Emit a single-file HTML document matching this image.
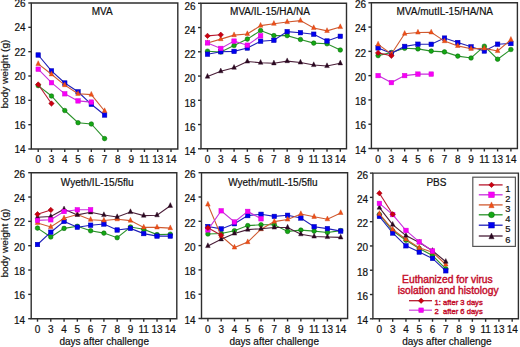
<!DOCTYPE html>
<html><head><meta charset="utf-8"><title>body weight charts</title>
<style>
html,body{margin:0;padding:0;background:#fff;}
body{width:520px;height:347px;overflow:hidden;}
svg{display:block;}
.t{font-family:"Liberation Sans",sans-serif;font-size:10px;fill:#111;stroke:#111;stroke-width:0.2px;}
</style></head>
<body>
<svg width="520" height="347" viewBox="0 0 520 347">
<rect width="520" height="347" fill="#fff"/>
<path d="M31.3 3.0H177.8V149.0H31.3Z" fill="none" stroke="#2e2e2e" stroke-width="1.4"/>
<path d="M28.30 3.00H31.3" stroke="#2e2e2e" stroke-width="1.4"/>
<text x="25.60" y="7.10" text-anchor="end" class="t">26</text>
<path d="M28.30 27.33H31.3" stroke="#2e2e2e" stroke-width="1.4"/>
<text x="25.60" y="31.43" text-anchor="end" class="t">24</text>
<path d="M28.30 51.67H31.3" stroke="#2e2e2e" stroke-width="1.4"/>
<text x="25.60" y="55.77" text-anchor="end" class="t">22</text>
<path d="M28.30 76.00H31.3" stroke="#2e2e2e" stroke-width="1.4"/>
<text x="25.60" y="80.10" text-anchor="end" class="t">20</text>
<path d="M28.30 100.33H31.3" stroke="#2e2e2e" stroke-width="1.4"/>
<text x="25.60" y="104.43" text-anchor="end" class="t">18</text>
<path d="M28.30 124.67H31.3" stroke="#2e2e2e" stroke-width="1.4"/>
<text x="25.60" y="128.77" text-anchor="end" class="t">16</text>
<path d="M28.30 149.00H31.3" stroke="#2e2e2e" stroke-width="1.4"/>
<text x="25.60" y="153.10" text-anchor="end" class="t">14</text>
<path d="M38.20 149.0V152.00" stroke="#2e2e2e" stroke-width="1.4"/>
<text x="38.20" y="163.00" text-anchor="middle" class="t">0</text>
<path d="M51.48 149.0V152.00" stroke="#2e2e2e" stroke-width="1.4"/>
<text x="51.48" y="163.00" text-anchor="middle" class="t">3</text>
<path d="M64.76 149.0V152.00" stroke="#2e2e2e" stroke-width="1.4"/>
<text x="64.76" y="163.00" text-anchor="middle" class="t">4</text>
<path d="M78.04 149.0V152.00" stroke="#2e2e2e" stroke-width="1.4"/>
<text x="78.04" y="163.00" text-anchor="middle" class="t">5</text>
<path d="M91.32 149.0V152.00" stroke="#2e2e2e" stroke-width="1.4"/>
<text x="91.32" y="163.00" text-anchor="middle" class="t">6</text>
<path d="M104.60 149.0V152.00" stroke="#2e2e2e" stroke-width="1.4"/>
<text x="104.60" y="163.00" text-anchor="middle" class="t">7</text>
<path d="M117.88 149.0V152.00" stroke="#2e2e2e" stroke-width="1.4"/>
<text x="117.88" y="163.00" text-anchor="middle" class="t">8</text>
<path d="M131.16 149.0V152.00" stroke="#2e2e2e" stroke-width="1.4"/>
<text x="131.16" y="163.00" text-anchor="middle" class="t">9</text>
<path d="M144.44 149.0V152.00" stroke="#2e2e2e" stroke-width="1.4"/>
<text x="144.44" y="163.00" text-anchor="middle" class="t">11</text>
<path d="M157.72 149.0V152.00" stroke="#2e2e2e" stroke-width="1.4"/>
<text x="157.72" y="163.00" text-anchor="middle" class="t">13</text>
<path d="M171.00 149.0V152.00" stroke="#2e2e2e" stroke-width="1.4"/>
<text x="171.00" y="163.00" text-anchor="middle" class="t">14</text>
<text x="102.20" y="14.70" text-anchor="middle" class="t">MVA</text>
<polyline points="38.20,85.60 51.48,96.00 64.76,110.50 78.04,122.70 91.32,124.00 104.60,138.60" fill="none" stroke="#2a922a" stroke-width="1.1"/>
<circle cx="38.20" cy="85.60" r="2.30" fill="#14a814" stroke="#006000" stroke-width="0.5"/>
<circle cx="51.48" cy="96.00" r="2.30" fill="#14a814" stroke="#006000" stroke-width="0.5"/>
<circle cx="64.76" cy="110.50" r="2.30" fill="#14a814" stroke="#006000" stroke-width="0.5"/>
<circle cx="78.04" cy="122.70" r="2.30" fill="#14a814" stroke="#006000" stroke-width="0.5"/>
<circle cx="91.32" cy="124.00" r="2.30" fill="#14a814" stroke="#006000" stroke-width="0.5"/>
<circle cx="104.60" cy="138.60" r="2.30" fill="#14a814" stroke="#006000" stroke-width="0.5"/>
<polyline points="38.20,55.00 51.48,70.90 64.76,83.00 78.04,91.80 91.32,104.30 104.60,115.00" fill="none" stroke="#2020b8" stroke-width="1.1"/>
<rect x="35.95" y="52.75" width="4.50" height="4.50" fill="#0000f0" stroke="#0000b0" stroke-width="0.5"/>
<rect x="49.23" y="68.65" width="4.50" height="4.50" fill="#0000f0" stroke="#0000b0" stroke-width="0.5"/>
<rect x="62.51" y="80.75" width="4.50" height="4.50" fill="#0000f0" stroke="#0000b0" stroke-width="0.5"/>
<rect x="75.79" y="89.55" width="4.50" height="4.50" fill="#0000f0" stroke="#0000b0" stroke-width="0.5"/>
<rect x="89.07" y="102.05" width="4.50" height="4.50" fill="#0000f0" stroke="#0000b0" stroke-width="0.5"/>
<rect x="102.35" y="112.75" width="4.50" height="4.50" fill="#0000f0" stroke="#0000b0" stroke-width="0.5"/>
<polyline points="38.20,63.90 51.48,74.30 64.76,85.10 78.04,93.80 91.32,94.60 104.60,111.00" fill="none" stroke="#d05a30" stroke-width="1.1"/>
<path d="M38.20 60.70L40.50 65.50L35.90 65.50Z" fill="#f05018" stroke="#c83c10" stroke-width="0.4"/>
<path d="M51.48 71.10L53.78 75.90L49.18 75.90Z" fill="#f05018" stroke="#c83c10" stroke-width="0.4"/>
<path d="M64.76 81.90L67.06 86.70L62.46 86.70Z" fill="#f05018" stroke="#c83c10" stroke-width="0.4"/>
<path d="M78.04 90.60L80.34 95.40L75.74 95.40Z" fill="#f05018" stroke="#c83c10" stroke-width="0.4"/>
<path d="M91.32 91.40L93.62 96.20L89.02 96.20Z" fill="#f05018" stroke="#c83c10" stroke-width="0.4"/>
<path d="M104.60 107.80L106.90 112.60L102.30 112.60Z" fill="#f05018" stroke="#c83c10" stroke-width="0.4"/>
<polyline points="38.20,69.20 51.48,82.70 64.76,93.80 78.04,100.90 91.32,102.10" fill="none" stroke="#c830dc" stroke-width="1.1"/>
<rect x="35.95" y="66.95" width="4.50" height="4.50" fill="#f800f8" stroke="#d800d8" stroke-width="0.5"/>
<rect x="49.23" y="80.45" width="4.50" height="4.50" fill="#f800f8" stroke="#d800d8" stroke-width="0.5"/>
<rect x="62.51" y="91.55" width="4.50" height="4.50" fill="#f800f8" stroke="#d800d8" stroke-width="0.5"/>
<rect x="75.79" y="98.65" width="4.50" height="4.50" fill="#f800f8" stroke="#d800d8" stroke-width="0.5"/>
<rect x="89.07" y="99.85" width="4.50" height="4.50" fill="#f800f8" stroke="#d800d8" stroke-width="0.5"/>
<polyline points="38.20,84.50 51.48,103.50" fill="none" stroke="#b8182e" stroke-width="1.1"/>
<path d="M38.20 81.80L40.90 84.50L38.20 87.20L35.50 84.50Z" fill="#cc0010" stroke="#a00010" stroke-width="0.6"/>
<path d="M51.48 100.80L54.18 103.50L51.48 106.20L48.78 103.50Z" fill="#cc0010" stroke="#a00010" stroke-width="0.6"/>
<path d="M201.0 3.3H346.5V148.8H201.0Z" fill="none" stroke="#2e2e2e" stroke-width="1.4"/>
<path d="M198.00 3.30H201.0" stroke="#2e2e2e" stroke-width="1.4"/>
<text x="195.50" y="9.70" text-anchor="end" class="t">26</text>
<path d="M198.00 27.55H201.0" stroke="#2e2e2e" stroke-width="1.4"/>
<text x="195.50" y="33.95" text-anchor="end" class="t">24</text>
<path d="M198.00 51.80H201.0" stroke="#2e2e2e" stroke-width="1.4"/>
<text x="195.50" y="58.20" text-anchor="end" class="t">22</text>
<path d="M198.00 76.05H201.0" stroke="#2e2e2e" stroke-width="1.4"/>
<text x="195.50" y="82.45" text-anchor="end" class="t">20</text>
<path d="M198.00 100.30H201.0" stroke="#2e2e2e" stroke-width="1.4"/>
<text x="195.50" y="106.70" text-anchor="end" class="t">18</text>
<path d="M198.00 124.55H201.0" stroke="#2e2e2e" stroke-width="1.4"/>
<text x="195.50" y="130.95" text-anchor="end" class="t">16</text>
<path d="M198.00 148.80H201.0" stroke="#2e2e2e" stroke-width="1.4"/>
<text x="195.50" y="155.20" text-anchor="end" class="t">14</text>
<path d="M207.50 148.8V151.80" stroke="#2e2e2e" stroke-width="1.4"/>
<text x="207.50" y="162.80" text-anchor="middle" class="t">0</text>
<path d="M220.78 148.8V151.80" stroke="#2e2e2e" stroke-width="1.4"/>
<text x="220.78" y="162.80" text-anchor="middle" class="t">3</text>
<path d="M234.06 148.8V151.80" stroke="#2e2e2e" stroke-width="1.4"/>
<text x="234.06" y="162.80" text-anchor="middle" class="t">4</text>
<path d="M247.34 148.8V151.80" stroke="#2e2e2e" stroke-width="1.4"/>
<text x="247.34" y="162.80" text-anchor="middle" class="t">5</text>
<path d="M260.62 148.8V151.80" stroke="#2e2e2e" stroke-width="1.4"/>
<text x="260.62" y="162.80" text-anchor="middle" class="t">6</text>
<path d="M273.90 148.8V151.80" stroke="#2e2e2e" stroke-width="1.4"/>
<text x="273.90" y="162.80" text-anchor="middle" class="t">7</text>
<path d="M287.18 148.8V151.80" stroke="#2e2e2e" stroke-width="1.4"/>
<text x="287.18" y="162.80" text-anchor="middle" class="t">8</text>
<path d="M300.46 148.8V151.80" stroke="#2e2e2e" stroke-width="1.4"/>
<text x="300.46" y="162.80" text-anchor="middle" class="t">9</text>
<path d="M313.74 148.8V151.80" stroke="#2e2e2e" stroke-width="1.4"/>
<text x="313.74" y="162.80" text-anchor="middle" class="t">11</text>
<path d="M327.02 148.8V151.80" stroke="#2e2e2e" stroke-width="1.4"/>
<text x="327.02" y="162.80" text-anchor="middle" class="t">13</text>
<path d="M340.30 148.8V151.80" stroke="#2e2e2e" stroke-width="1.4"/>
<text x="340.30" y="162.80" text-anchor="middle" class="t">14</text>
<text x="270.00" y="14.70" text-anchor="middle" class="t">MVA/IL-15/HA/NA</text>
<polyline points="207.50,51.20 220.78,52.00 234.06,45.50 247.34,39.10 260.62,30.50 273.90,35.60 287.18,35.60 300.46,39.50 313.74,43.10 327.02,43.80 340.30,50.00" fill="none" stroke="#2a922a" stroke-width="1.1"/>
<circle cx="207.50" cy="51.20" r="2.30" fill="#14a814" stroke="#006000" stroke-width="0.5"/>
<circle cx="220.78" cy="52.00" r="2.30" fill="#14a814" stroke="#006000" stroke-width="0.5"/>
<circle cx="234.06" cy="45.50" r="2.30" fill="#14a814" stroke="#006000" stroke-width="0.5"/>
<circle cx="247.34" cy="39.10" r="2.30" fill="#14a814" stroke="#006000" stroke-width="0.5"/>
<circle cx="260.62" cy="30.50" r="2.30" fill="#14a814" stroke="#006000" stroke-width="0.5"/>
<circle cx="273.90" cy="35.60" r="2.30" fill="#14a814" stroke="#006000" stroke-width="0.5"/>
<circle cx="287.18" cy="35.60" r="2.30" fill="#14a814" stroke="#006000" stroke-width="0.5"/>
<circle cx="300.46" cy="39.50" r="2.30" fill="#14a814" stroke="#006000" stroke-width="0.5"/>
<circle cx="313.74" cy="43.10" r="2.30" fill="#14a814" stroke="#006000" stroke-width="0.5"/>
<circle cx="327.02" cy="43.80" r="2.30" fill="#14a814" stroke="#006000" stroke-width="0.5"/>
<circle cx="340.30" cy="50.00" r="2.30" fill="#14a814" stroke="#006000" stroke-width="0.5"/>
<polyline points="207.50,54.20 220.78,51.70 234.06,51.40 247.34,48.00 260.62,41.20 273.90,40.30 287.18,31.60 300.46,32.70 313.74,34.20 327.02,41.00 340.30,36.30" fill="none" stroke="#2020b8" stroke-width="1.1"/>
<rect x="205.25" y="51.95" width="4.50" height="4.50" fill="#0000f0" stroke="#0000b0" stroke-width="0.5"/>
<rect x="218.53" y="49.45" width="4.50" height="4.50" fill="#0000f0" stroke="#0000b0" stroke-width="0.5"/>
<rect x="231.81" y="49.15" width="4.50" height="4.50" fill="#0000f0" stroke="#0000b0" stroke-width="0.5"/>
<rect x="245.09" y="45.75" width="4.50" height="4.50" fill="#0000f0" stroke="#0000b0" stroke-width="0.5"/>
<rect x="258.37" y="38.95" width="4.50" height="4.50" fill="#0000f0" stroke="#0000b0" stroke-width="0.5"/>
<rect x="271.65" y="38.05" width="4.50" height="4.50" fill="#0000f0" stroke="#0000b0" stroke-width="0.5"/>
<rect x="284.93" y="29.35" width="4.50" height="4.50" fill="#0000f0" stroke="#0000b0" stroke-width="0.5"/>
<rect x="298.21" y="30.45" width="4.50" height="4.50" fill="#0000f0" stroke="#0000b0" stroke-width="0.5"/>
<rect x="311.49" y="31.95" width="4.50" height="4.50" fill="#0000f0" stroke="#0000b0" stroke-width="0.5"/>
<rect x="324.77" y="38.75" width="4.50" height="4.50" fill="#0000f0" stroke="#0000b0" stroke-width="0.5"/>
<rect x="338.05" y="34.05" width="4.50" height="4.50" fill="#0000f0" stroke="#0000b0" stroke-width="0.5"/>
<polyline points="207.50,43.00 220.78,39.10 234.06,35.10 247.34,34.00 260.62,25.60 273.90,23.70 287.18,22.00 300.46,20.60 313.74,28.00 327.02,30.90 340.30,27.00" fill="none" stroke="#d05a30" stroke-width="1.1"/>
<path d="M207.50 39.80L209.80 44.60L205.20 44.60Z" fill="#f05018" stroke="#c83c10" stroke-width="0.4"/>
<path d="M220.78 35.90L223.08 40.70L218.48 40.70Z" fill="#f05018" stroke="#c83c10" stroke-width="0.4"/>
<path d="M234.06 31.90L236.36 36.70L231.76 36.70Z" fill="#f05018" stroke="#c83c10" stroke-width="0.4"/>
<path d="M247.34 30.80L249.64 35.60L245.04 35.60Z" fill="#f05018" stroke="#c83c10" stroke-width="0.4"/>
<path d="M260.62 22.40L262.92 27.20L258.32 27.20Z" fill="#f05018" stroke="#c83c10" stroke-width="0.4"/>
<path d="M273.90 20.50L276.20 25.30L271.60 25.30Z" fill="#f05018" stroke="#c83c10" stroke-width="0.4"/>
<path d="M287.18 18.80L289.48 23.60L284.88 23.60Z" fill="#f05018" stroke="#c83c10" stroke-width="0.4"/>
<path d="M300.46 17.40L302.76 22.20L298.16 22.20Z" fill="#f05018" stroke="#c83c10" stroke-width="0.4"/>
<path d="M313.74 24.80L316.04 29.60L311.44 29.60Z" fill="#f05018" stroke="#c83c10" stroke-width="0.4"/>
<path d="M327.02 27.70L329.32 32.50L324.72 32.50Z" fill="#f05018" stroke="#c83c10" stroke-width="0.4"/>
<path d="M340.30 23.80L342.60 28.60L338.00 28.60Z" fill="#f05018" stroke="#c83c10" stroke-width="0.4"/>
<polyline points="207.50,76.60 220.78,71.20 234.06,67.70 247.34,61.50 260.62,62.70 273.90,63.30 287.18,61.10 300.46,62.50 313.74,65.00 327.02,66.00 340.30,63.30" fill="none" stroke="#4a1e38" stroke-width="1.1"/>
<path d="M207.50 73.40L209.80 78.20L205.20 78.20Z" fill="#2a0820" stroke="#2a0820" stroke-width="0.4"/>
<path d="M220.78 68.00L223.08 72.80L218.48 72.80Z" fill="#2a0820" stroke="#2a0820" stroke-width="0.4"/>
<path d="M234.06 64.50L236.36 69.30L231.76 69.30Z" fill="#2a0820" stroke="#2a0820" stroke-width="0.4"/>
<path d="M247.34 58.30L249.64 63.10L245.04 63.10Z" fill="#2a0820" stroke="#2a0820" stroke-width="0.4"/>
<path d="M260.62 59.50L262.92 64.30L258.32 64.30Z" fill="#2a0820" stroke="#2a0820" stroke-width="0.4"/>
<path d="M273.90 60.10L276.20 64.90L271.60 64.90Z" fill="#2a0820" stroke="#2a0820" stroke-width="0.4"/>
<path d="M287.18 57.90L289.48 62.70L284.88 62.70Z" fill="#2a0820" stroke="#2a0820" stroke-width="0.4"/>
<path d="M300.46 59.30L302.76 64.10L298.16 64.10Z" fill="#2a0820" stroke="#2a0820" stroke-width="0.4"/>
<path d="M313.74 61.80L316.04 66.60L311.44 66.60Z" fill="#2a0820" stroke="#2a0820" stroke-width="0.4"/>
<path d="M327.02 62.80L329.32 67.60L324.72 67.60Z" fill="#2a0820" stroke="#2a0820" stroke-width="0.4"/>
<path d="M340.30 60.10L342.60 64.90L338.00 64.90Z" fill="#2a0820" stroke="#2a0820" stroke-width="0.4"/>
<polyline points="207.50,42.90 220.78,48.40 234.06,41.10 247.34,45.20 260.62,35.80" fill="none" stroke="#c830dc" stroke-width="1.1"/>
<rect x="205.25" y="40.65" width="4.50" height="4.50" fill="#f800f8" stroke="#d800d8" stroke-width="0.5"/>
<rect x="218.53" y="46.15" width="4.50" height="4.50" fill="#f800f8" stroke="#d800d8" stroke-width="0.5"/>
<rect x="231.81" y="38.85" width="4.50" height="4.50" fill="#f800f8" stroke="#d800d8" stroke-width="0.5"/>
<rect x="245.09" y="42.95" width="4.50" height="4.50" fill="#f800f8" stroke="#d800d8" stroke-width="0.5"/>
<rect x="258.37" y="33.55" width="4.50" height="4.50" fill="#f800f8" stroke="#d800d8" stroke-width="0.5"/>
<polyline points="207.50,35.90 220.78,34.80" fill="none" stroke="#b8182e" stroke-width="1.1"/>
<path d="M207.50 33.20L210.20 35.90L207.50 38.60L204.80 35.90Z" fill="#cc0010" stroke="#a00010" stroke-width="0.6"/>
<path d="M220.78 32.10L223.48 34.80L220.78 37.50L218.08 34.80Z" fill="#cc0010" stroke="#a00010" stroke-width="0.6"/>
<path d="M371.4 2.8H517.4V148.5H371.4Z" fill="none" stroke="#2e2e2e" stroke-width="1.4"/>
<path d="M368.40 2.80H371.4" stroke="#2e2e2e" stroke-width="1.4"/>
<text x="366.00" y="8.00" text-anchor="end" class="t">26</text>
<path d="M368.40 27.08H371.4" stroke="#2e2e2e" stroke-width="1.4"/>
<text x="366.00" y="32.28" text-anchor="end" class="t">24</text>
<path d="M368.40 51.37H371.4" stroke="#2e2e2e" stroke-width="1.4"/>
<text x="366.00" y="56.57" text-anchor="end" class="t">22</text>
<path d="M368.40 75.65H371.4" stroke="#2e2e2e" stroke-width="1.4"/>
<text x="366.00" y="80.85" text-anchor="end" class="t">20</text>
<path d="M368.40 99.93H371.4" stroke="#2e2e2e" stroke-width="1.4"/>
<text x="366.00" y="105.13" text-anchor="end" class="t">18</text>
<path d="M368.40 124.22H371.4" stroke="#2e2e2e" stroke-width="1.4"/>
<text x="366.00" y="129.42" text-anchor="end" class="t">16</text>
<path d="M368.40 148.50H371.4" stroke="#2e2e2e" stroke-width="1.4"/>
<text x="366.00" y="153.70" text-anchor="end" class="t">14</text>
<path d="M378.10 148.5V151.50" stroke="#2e2e2e" stroke-width="1.4"/>
<text x="378.10" y="162.50" text-anchor="middle" class="t">0</text>
<path d="M391.38 148.5V151.50" stroke="#2e2e2e" stroke-width="1.4"/>
<text x="391.38" y="162.50" text-anchor="middle" class="t">3</text>
<path d="M404.66 148.5V151.50" stroke="#2e2e2e" stroke-width="1.4"/>
<text x="404.66" y="162.50" text-anchor="middle" class="t">4</text>
<path d="M417.94 148.5V151.50" stroke="#2e2e2e" stroke-width="1.4"/>
<text x="417.94" y="162.50" text-anchor="middle" class="t">5</text>
<path d="M431.22 148.5V151.50" stroke="#2e2e2e" stroke-width="1.4"/>
<text x="431.22" y="162.50" text-anchor="middle" class="t">6</text>
<path d="M444.50 148.5V151.50" stroke="#2e2e2e" stroke-width="1.4"/>
<text x="444.50" y="162.50" text-anchor="middle" class="t">7</text>
<path d="M457.78 148.5V151.50" stroke="#2e2e2e" stroke-width="1.4"/>
<text x="457.78" y="162.50" text-anchor="middle" class="t">8</text>
<path d="M471.06 148.5V151.50" stroke="#2e2e2e" stroke-width="1.4"/>
<text x="471.06" y="162.50" text-anchor="middle" class="t">9</text>
<path d="M484.34 148.5V151.50" stroke="#2e2e2e" stroke-width="1.4"/>
<text x="484.34" y="162.50" text-anchor="middle" class="t">11</text>
<path d="M497.62 148.5V151.50" stroke="#2e2e2e" stroke-width="1.4"/>
<text x="497.62" y="162.50" text-anchor="middle" class="t">13</text>
<path d="M510.90 148.5V151.50" stroke="#2e2e2e" stroke-width="1.4"/>
<text x="510.90" y="162.50" text-anchor="middle" class="t">14</text>
<text x="444.80" y="14.70" text-anchor="middle" class="t">MVA/mutIL-15/HA/NA</text>
<polyline points="378.10,55.60 391.38,52.50 404.66,48.30 417.94,48.90 431.22,51.10 444.50,51.90 457.78,56.10 471.06,58.00 484.34,46.20 497.62,59.20 510.90,49.50" fill="none" stroke="#2a922a" stroke-width="1.1"/>
<circle cx="378.10" cy="55.60" r="2.30" fill="#14a814" stroke="#006000" stroke-width="0.5"/>
<circle cx="391.38" cy="52.50" r="2.30" fill="#14a814" stroke="#006000" stroke-width="0.5"/>
<circle cx="404.66" cy="48.30" r="2.30" fill="#14a814" stroke="#006000" stroke-width="0.5"/>
<circle cx="417.94" cy="48.90" r="2.30" fill="#14a814" stroke="#006000" stroke-width="0.5"/>
<circle cx="431.22" cy="51.10" r="2.30" fill="#14a814" stroke="#006000" stroke-width="0.5"/>
<circle cx="444.50" cy="51.90" r="2.30" fill="#14a814" stroke="#006000" stroke-width="0.5"/>
<circle cx="457.78" cy="56.10" r="2.30" fill="#14a814" stroke="#006000" stroke-width="0.5"/>
<circle cx="471.06" cy="58.00" r="2.30" fill="#14a814" stroke="#006000" stroke-width="0.5"/>
<circle cx="484.34" cy="46.20" r="2.30" fill="#14a814" stroke="#006000" stroke-width="0.5"/>
<circle cx="497.62" cy="59.20" r="2.30" fill="#14a814" stroke="#006000" stroke-width="0.5"/>
<circle cx="510.90" cy="49.50" r="2.30" fill="#14a814" stroke="#006000" stroke-width="0.5"/>
<polyline points="378.10,47.90 391.38,53.30 404.66,46.40 417.94,44.20 431.22,44.30 444.50,38.10 457.78,42.50 471.06,46.80 484.34,51.00 497.62,44.20 510.90,43.50" fill="none" stroke="#2020b8" stroke-width="1.1"/>
<rect x="375.85" y="45.65" width="4.50" height="4.50" fill="#0000f0" stroke="#0000b0" stroke-width="0.5"/>
<rect x="389.13" y="51.05" width="4.50" height="4.50" fill="#0000f0" stroke="#0000b0" stroke-width="0.5"/>
<rect x="402.41" y="44.15" width="4.50" height="4.50" fill="#0000f0" stroke="#0000b0" stroke-width="0.5"/>
<rect x="415.69" y="41.95" width="4.50" height="4.50" fill="#0000f0" stroke="#0000b0" stroke-width="0.5"/>
<rect x="428.97" y="42.05" width="4.50" height="4.50" fill="#0000f0" stroke="#0000b0" stroke-width="0.5"/>
<rect x="442.25" y="35.85" width="4.50" height="4.50" fill="#0000f0" stroke="#0000b0" stroke-width="0.5"/>
<rect x="455.53" y="40.25" width="4.50" height="4.50" fill="#0000f0" stroke="#0000b0" stroke-width="0.5"/>
<rect x="468.81" y="44.55" width="4.50" height="4.50" fill="#0000f0" stroke="#0000b0" stroke-width="0.5"/>
<rect x="482.09" y="48.75" width="4.50" height="4.50" fill="#0000f0" stroke="#0000b0" stroke-width="0.5"/>
<rect x="495.37" y="41.95" width="4.50" height="4.50" fill="#0000f0" stroke="#0000b0" stroke-width="0.5"/>
<rect x="508.65" y="41.25" width="4.50" height="4.50" fill="#0000f0" stroke="#0000b0" stroke-width="0.5"/>
<polyline points="378.10,44.40 391.38,54.00 404.66,33.70 417.94,32.50 431.22,32.40 444.50,41.10 457.78,45.90 471.06,48.80 484.34,48.40 497.62,51.00 510.90,39.70" fill="none" stroke="#d05a30" stroke-width="1.1"/>
<path d="M378.10 41.20L380.40 46.00L375.80 46.00Z" fill="#f05018" stroke="#c83c10" stroke-width="0.4"/>
<path d="M391.38 50.80L393.68 55.60L389.08 55.60Z" fill="#f05018" stroke="#c83c10" stroke-width="0.4"/>
<path d="M404.66 30.50L406.96 35.30L402.36 35.30Z" fill="#f05018" stroke="#c83c10" stroke-width="0.4"/>
<path d="M417.94 29.30L420.24 34.10L415.64 34.10Z" fill="#f05018" stroke="#c83c10" stroke-width="0.4"/>
<path d="M431.22 29.20L433.52 34.00L428.92 34.00Z" fill="#f05018" stroke="#c83c10" stroke-width="0.4"/>
<path d="M444.50 37.90L446.80 42.70L442.20 42.70Z" fill="#f05018" stroke="#c83c10" stroke-width="0.4"/>
<path d="M457.78 42.70L460.08 47.50L455.48 47.50Z" fill="#f05018" stroke="#c83c10" stroke-width="0.4"/>
<path d="M471.06 45.60L473.36 50.40L468.76 50.40Z" fill="#f05018" stroke="#c83c10" stroke-width="0.4"/>
<path d="M484.34 45.20L486.64 50.00L482.04 50.00Z" fill="#f05018" stroke="#c83c10" stroke-width="0.4"/>
<path d="M497.62 47.80L499.92 52.60L495.32 52.60Z" fill="#f05018" stroke="#c83c10" stroke-width="0.4"/>
<path d="M510.90 36.50L513.20 41.30L508.60 41.30Z" fill="#f05018" stroke="#c83c10" stroke-width="0.4"/>
<polyline points="378.10,75.60 391.38,82.60 404.66,75.60 417.94,74.10 431.22,74.10" fill="none" stroke="#c830dc" stroke-width="1.1"/>
<rect x="375.85" y="73.35" width="4.50" height="4.50" fill="#f800f8" stroke="#d800d8" stroke-width="0.5"/>
<rect x="389.13" y="80.35" width="4.50" height="4.50" fill="#f800f8" stroke="#d800d8" stroke-width="0.5"/>
<rect x="402.41" y="73.35" width="4.50" height="4.50" fill="#f800f8" stroke="#d800d8" stroke-width="0.5"/>
<rect x="415.69" y="71.85" width="4.50" height="4.50" fill="#f800f8" stroke="#d800d8" stroke-width="0.5"/>
<rect x="428.97" y="71.85" width="4.50" height="4.50" fill="#f800f8" stroke="#d800d8" stroke-width="0.5"/>
<polyline points="378.10,52.90 391.38,55.80" fill="none" stroke="#b8182e" stroke-width="1.1"/>
<path d="M378.10 50.20L380.80 52.90L378.10 55.60L375.40 52.90Z" fill="#cc0010" stroke="#a00010" stroke-width="0.6"/>
<path d="M391.38 53.10L394.08 55.80L391.38 58.50L388.68 55.80Z" fill="#cc0010" stroke="#a00010" stroke-width="0.6"/>
<path d="M31.2 172.7H176.8V318.7H31.2Z" fill="none" stroke="#2e2e2e" stroke-width="1.4"/>
<path d="M28.20 172.70H31.2" stroke="#2e2e2e" stroke-width="1.4"/>
<text x="25.10" y="177.60" text-anchor="end" class="t">26</text>
<path d="M28.20 197.03H31.2" stroke="#2e2e2e" stroke-width="1.4"/>
<text x="25.10" y="201.93" text-anchor="end" class="t">24</text>
<path d="M28.20 221.37H31.2" stroke="#2e2e2e" stroke-width="1.4"/>
<text x="25.10" y="226.27" text-anchor="end" class="t">22</text>
<path d="M28.20 245.70H31.2" stroke="#2e2e2e" stroke-width="1.4"/>
<text x="25.10" y="250.60" text-anchor="end" class="t">20</text>
<path d="M28.20 270.03H31.2" stroke="#2e2e2e" stroke-width="1.4"/>
<text x="25.10" y="274.93" text-anchor="end" class="t">18</text>
<path d="M28.20 294.37H31.2" stroke="#2e2e2e" stroke-width="1.4"/>
<text x="25.10" y="299.27" text-anchor="end" class="t">16</text>
<path d="M28.20 318.70H31.2" stroke="#2e2e2e" stroke-width="1.4"/>
<text x="25.10" y="323.60" text-anchor="end" class="t">14</text>
<path d="M37.50 318.7V321.70" stroke="#2e2e2e" stroke-width="1.4"/>
<text x="37.50" y="332.70" text-anchor="middle" class="t">0</text>
<path d="M50.78 318.7V321.70" stroke="#2e2e2e" stroke-width="1.4"/>
<text x="50.78" y="332.70" text-anchor="middle" class="t">3</text>
<path d="M64.06 318.7V321.70" stroke="#2e2e2e" stroke-width="1.4"/>
<text x="64.06" y="332.70" text-anchor="middle" class="t">4</text>
<path d="M77.34 318.7V321.70" stroke="#2e2e2e" stroke-width="1.4"/>
<text x="77.34" y="332.70" text-anchor="middle" class="t">5</text>
<path d="M90.62 318.7V321.70" stroke="#2e2e2e" stroke-width="1.4"/>
<text x="90.62" y="332.70" text-anchor="middle" class="t">6</text>
<path d="M103.90 318.7V321.70" stroke="#2e2e2e" stroke-width="1.4"/>
<text x="103.90" y="332.70" text-anchor="middle" class="t">7</text>
<path d="M117.18 318.7V321.70" stroke="#2e2e2e" stroke-width="1.4"/>
<text x="117.18" y="332.70" text-anchor="middle" class="t">8</text>
<path d="M130.46 318.7V321.70" stroke="#2e2e2e" stroke-width="1.4"/>
<text x="130.46" y="332.70" text-anchor="middle" class="t">9</text>
<path d="M143.74 318.7V321.70" stroke="#2e2e2e" stroke-width="1.4"/>
<text x="143.74" y="332.70" text-anchor="middle" class="t">11</text>
<path d="M157.02 318.7V321.70" stroke="#2e2e2e" stroke-width="1.4"/>
<text x="157.02" y="332.70" text-anchor="middle" class="t">13</text>
<path d="M170.30 318.7V321.70" stroke="#2e2e2e" stroke-width="1.4"/>
<text x="170.30" y="332.70" text-anchor="middle" class="t">14</text>
<text x="97.20" y="185.70" text-anchor="middle" class="t">Wyeth/IL-15/5flu</text>
<polyline points="37.50,228.10 50.78,237.00 64.06,228.40 77.34,226.30 90.62,230.80 103.90,233.10 117.18,237.70 130.46,227.00 143.74,229.30 157.02,234.60 170.30,234.20" fill="none" stroke="#2a922a" stroke-width="1.1"/>
<circle cx="37.50" cy="228.10" r="2.30" fill="#14a814" stroke="#006000" stroke-width="0.5"/>
<circle cx="50.78" cy="237.00" r="2.30" fill="#14a814" stroke="#006000" stroke-width="0.5"/>
<circle cx="64.06" cy="228.40" r="2.30" fill="#14a814" stroke="#006000" stroke-width="0.5"/>
<circle cx="77.34" cy="226.30" r="2.30" fill="#14a814" stroke="#006000" stroke-width="0.5"/>
<circle cx="90.62" cy="230.80" r="2.30" fill="#14a814" stroke="#006000" stroke-width="0.5"/>
<circle cx="103.90" cy="233.10" r="2.30" fill="#14a814" stroke="#006000" stroke-width="0.5"/>
<circle cx="117.18" cy="237.70" r="2.30" fill="#14a814" stroke="#006000" stroke-width="0.5"/>
<circle cx="130.46" cy="227.00" r="2.30" fill="#14a814" stroke="#006000" stroke-width="0.5"/>
<circle cx="143.74" cy="229.30" r="2.30" fill="#14a814" stroke="#006000" stroke-width="0.5"/>
<circle cx="157.02" cy="234.60" r="2.30" fill="#14a814" stroke="#006000" stroke-width="0.5"/>
<circle cx="170.30" cy="234.20" r="2.30" fill="#14a814" stroke="#006000" stroke-width="0.5"/>
<polyline points="37.50,244.50 50.78,232.20 64.06,221.40 77.34,227.20 90.62,225.20 103.90,224.00 117.18,230.00 130.46,228.40 143.74,233.60 157.02,236.10 170.30,236.10" fill="none" stroke="#2020b8" stroke-width="1.1"/>
<rect x="35.25" y="242.25" width="4.50" height="4.50" fill="#0000f0" stroke="#0000b0" stroke-width="0.5"/>
<rect x="48.53" y="229.95" width="4.50" height="4.50" fill="#0000f0" stroke="#0000b0" stroke-width="0.5"/>
<rect x="61.81" y="219.15" width="4.50" height="4.50" fill="#0000f0" stroke="#0000b0" stroke-width="0.5"/>
<rect x="75.09" y="224.95" width="4.50" height="4.50" fill="#0000f0" stroke="#0000b0" stroke-width="0.5"/>
<rect x="88.37" y="222.95" width="4.50" height="4.50" fill="#0000f0" stroke="#0000b0" stroke-width="0.5"/>
<rect x="101.65" y="221.75" width="4.50" height="4.50" fill="#0000f0" stroke="#0000b0" stroke-width="0.5"/>
<rect x="114.93" y="227.75" width="4.50" height="4.50" fill="#0000f0" stroke="#0000b0" stroke-width="0.5"/>
<rect x="128.21" y="226.15" width="4.50" height="4.50" fill="#0000f0" stroke="#0000b0" stroke-width="0.5"/>
<rect x="141.49" y="231.35" width="4.50" height="4.50" fill="#0000f0" stroke="#0000b0" stroke-width="0.5"/>
<rect x="154.77" y="233.85" width="4.50" height="4.50" fill="#0000f0" stroke="#0000b0" stroke-width="0.5"/>
<rect x="168.05" y="233.85" width="4.50" height="4.50" fill="#0000f0" stroke="#0000b0" stroke-width="0.5"/>
<polyline points="37.50,223.00 50.78,227.00 64.06,218.30 77.34,214.50 90.62,219.70 103.90,220.50 117.18,219.20 130.46,220.60 143.74,227.40 157.02,227.40 170.30,228.10" fill="none" stroke="#d05a30" stroke-width="1.1"/>
<path d="M37.50 219.80L39.80 224.60L35.20 224.60Z" fill="#f05018" stroke="#c83c10" stroke-width="0.4"/>
<path d="M50.78 223.80L53.08 228.60L48.48 228.60Z" fill="#f05018" stroke="#c83c10" stroke-width="0.4"/>
<path d="M64.06 215.10L66.36 219.90L61.76 219.90Z" fill="#f05018" stroke="#c83c10" stroke-width="0.4"/>
<path d="M77.34 211.30L79.64 216.10L75.04 216.10Z" fill="#f05018" stroke="#c83c10" stroke-width="0.4"/>
<path d="M90.62 216.50L92.92 221.30L88.32 221.30Z" fill="#f05018" stroke="#c83c10" stroke-width="0.4"/>
<path d="M103.90 217.30L106.20 222.10L101.60 222.10Z" fill="#f05018" stroke="#c83c10" stroke-width="0.4"/>
<path d="M117.18 216.00L119.48 220.80L114.88 220.80Z" fill="#f05018" stroke="#c83c10" stroke-width="0.4"/>
<path d="M130.46 217.40L132.76 222.20L128.16 222.20Z" fill="#f05018" stroke="#c83c10" stroke-width="0.4"/>
<path d="M143.74 224.20L146.04 229.00L141.44 229.00Z" fill="#f05018" stroke="#c83c10" stroke-width="0.4"/>
<path d="M157.02 224.20L159.32 229.00L154.72 229.00Z" fill="#f05018" stroke="#c83c10" stroke-width="0.4"/>
<path d="M170.30 224.90L172.60 229.70L168.00 229.70Z" fill="#f05018" stroke="#c83c10" stroke-width="0.4"/>
<polyline points="37.50,217.20 50.78,216.50 64.06,209.20 77.34,214.90 90.62,212.30 103.90,215.00 117.18,217.00 130.46,212.00 143.74,215.60 157.02,215.20 170.30,205.80" fill="none" stroke="#4a1e38" stroke-width="1.1"/>
<path d="M37.50 214.00L39.80 218.80L35.20 218.80Z" fill="#2a0820" stroke="#2a0820" stroke-width="0.4"/>
<path d="M50.78 213.30L53.08 218.10L48.48 218.10Z" fill="#2a0820" stroke="#2a0820" stroke-width="0.4"/>
<path d="M64.06 206.00L66.36 210.80L61.76 210.80Z" fill="#2a0820" stroke="#2a0820" stroke-width="0.4"/>
<path d="M77.34 211.70L79.64 216.50L75.04 216.50Z" fill="#2a0820" stroke="#2a0820" stroke-width="0.4"/>
<path d="M90.62 209.10L92.92 213.90L88.32 213.90Z" fill="#2a0820" stroke="#2a0820" stroke-width="0.4"/>
<path d="M103.90 211.80L106.20 216.60L101.60 216.60Z" fill="#2a0820" stroke="#2a0820" stroke-width="0.4"/>
<path d="M117.18 213.80L119.48 218.60L114.88 218.60Z" fill="#2a0820" stroke="#2a0820" stroke-width="0.4"/>
<path d="M130.46 208.80L132.76 213.60L128.16 213.60Z" fill="#2a0820" stroke="#2a0820" stroke-width="0.4"/>
<path d="M143.74 212.40L146.04 217.20L141.44 217.20Z" fill="#2a0820" stroke="#2a0820" stroke-width="0.4"/>
<path d="M157.02 212.00L159.32 216.80L154.72 216.80Z" fill="#2a0820" stroke="#2a0820" stroke-width="0.4"/>
<path d="M170.30 202.60L172.60 207.40L168.00 207.40Z" fill="#2a0820" stroke="#2a0820" stroke-width="0.4"/>
<polyline points="37.50,220.40 50.78,219.80 64.06,211.50 77.34,209.80 90.62,209.70" fill="none" stroke="#c830dc" stroke-width="1.1"/>
<rect x="35.25" y="218.15" width="4.50" height="4.50" fill="#f800f8" stroke="#d800d8" stroke-width="0.5"/>
<rect x="48.53" y="217.55" width="4.50" height="4.50" fill="#f800f8" stroke="#d800d8" stroke-width="0.5"/>
<rect x="61.81" y="209.25" width="4.50" height="4.50" fill="#f800f8" stroke="#d800d8" stroke-width="0.5"/>
<rect x="75.09" y="207.55" width="4.50" height="4.50" fill="#f800f8" stroke="#d800d8" stroke-width="0.5"/>
<rect x="88.37" y="207.45" width="4.50" height="4.50" fill="#f800f8" stroke="#d800d8" stroke-width="0.5"/>
<polyline points="37.50,214.20 50.78,210.00" fill="none" stroke="#b8182e" stroke-width="1.1"/>
<path d="M37.50 211.50L40.20 214.20L37.50 216.90L34.80 214.20Z" fill="#cc0010" stroke="#a00010" stroke-width="0.6"/>
<path d="M50.78 207.30L53.48 210.00L50.78 212.70L48.08 210.00Z" fill="#cc0010" stroke="#a00010" stroke-width="0.6"/>
<path d="M201.5 172.7H347.6V318.5H201.5Z" fill="none" stroke="#2e2e2e" stroke-width="1.4"/>
<path d="M198.50 172.70H201.5" stroke="#2e2e2e" stroke-width="1.4"/>
<text x="195.50" y="177.90" text-anchor="end" class="t">26</text>
<path d="M198.50 197.00H201.5" stroke="#2e2e2e" stroke-width="1.4"/>
<text x="195.50" y="202.20" text-anchor="end" class="t">24</text>
<path d="M198.50 221.30H201.5" stroke="#2e2e2e" stroke-width="1.4"/>
<text x="195.50" y="226.50" text-anchor="end" class="t">22</text>
<path d="M198.50 245.60H201.5" stroke="#2e2e2e" stroke-width="1.4"/>
<text x="195.50" y="250.80" text-anchor="end" class="t">20</text>
<path d="M198.50 269.90H201.5" stroke="#2e2e2e" stroke-width="1.4"/>
<text x="195.50" y="275.10" text-anchor="end" class="t">18</text>
<path d="M198.50 294.20H201.5" stroke="#2e2e2e" stroke-width="1.4"/>
<text x="195.50" y="299.40" text-anchor="end" class="t">16</text>
<path d="M198.50 318.50H201.5" stroke="#2e2e2e" stroke-width="1.4"/>
<text x="195.50" y="323.70" text-anchor="end" class="t">14</text>
<path d="M207.90 318.5V321.50" stroke="#2e2e2e" stroke-width="1.4"/>
<text x="207.90" y="332.50" text-anchor="middle" class="t">0</text>
<path d="M221.18 318.5V321.50" stroke="#2e2e2e" stroke-width="1.4"/>
<text x="221.18" y="332.50" text-anchor="middle" class="t">3</text>
<path d="M234.46 318.5V321.50" stroke="#2e2e2e" stroke-width="1.4"/>
<text x="234.46" y="332.50" text-anchor="middle" class="t">4</text>
<path d="M247.74 318.5V321.50" stroke="#2e2e2e" stroke-width="1.4"/>
<text x="247.74" y="332.50" text-anchor="middle" class="t">5</text>
<path d="M261.02 318.5V321.50" stroke="#2e2e2e" stroke-width="1.4"/>
<text x="261.02" y="332.50" text-anchor="middle" class="t">6</text>
<path d="M274.30 318.5V321.50" stroke="#2e2e2e" stroke-width="1.4"/>
<text x="274.30" y="332.50" text-anchor="middle" class="t">7</text>
<path d="M287.58 318.5V321.50" stroke="#2e2e2e" stroke-width="1.4"/>
<text x="287.58" y="332.50" text-anchor="middle" class="t">8</text>
<path d="M300.86 318.5V321.50" stroke="#2e2e2e" stroke-width="1.4"/>
<text x="300.86" y="332.50" text-anchor="middle" class="t">9</text>
<path d="M314.14 318.5V321.50" stroke="#2e2e2e" stroke-width="1.4"/>
<text x="314.14" y="332.50" text-anchor="middle" class="t">11</text>
<path d="M327.42 318.5V321.50" stroke="#2e2e2e" stroke-width="1.4"/>
<text x="327.42" y="332.50" text-anchor="middle" class="t">13</text>
<path d="M340.70 318.5V321.50" stroke="#2e2e2e" stroke-width="1.4"/>
<text x="340.70" y="332.50" text-anchor="middle" class="t">14</text>
<text x="272.90" y="185.70" text-anchor="middle" class="t">Wyeth/mutIL-15/5flu</text>
<polyline points="207.90,234.00 221.18,233.50 234.46,230.70 247.74,225.60 261.02,224.80 274.30,224.80 287.58,231.40 300.86,230.10 314.14,231.10 327.42,232.50 340.70,230.60" fill="none" stroke="#2a922a" stroke-width="1.1"/>
<circle cx="207.90" cy="234.00" r="2.30" fill="#14a814" stroke="#006000" stroke-width="0.5"/>
<circle cx="221.18" cy="233.50" r="2.30" fill="#14a814" stroke="#006000" stroke-width="0.5"/>
<circle cx="234.46" cy="230.70" r="2.30" fill="#14a814" stroke="#006000" stroke-width="0.5"/>
<circle cx="247.74" cy="225.60" r="2.30" fill="#14a814" stroke="#006000" stroke-width="0.5"/>
<circle cx="261.02" cy="224.80" r="2.30" fill="#14a814" stroke="#006000" stroke-width="0.5"/>
<circle cx="274.30" cy="224.80" r="2.30" fill="#14a814" stroke="#006000" stroke-width="0.5"/>
<circle cx="287.58" cy="231.40" r="2.30" fill="#14a814" stroke="#006000" stroke-width="0.5"/>
<circle cx="300.86" cy="230.10" r="2.30" fill="#14a814" stroke="#006000" stroke-width="0.5"/>
<circle cx="314.14" cy="231.10" r="2.30" fill="#14a814" stroke="#006000" stroke-width="0.5"/>
<circle cx="327.42" cy="232.50" r="2.30" fill="#14a814" stroke="#006000" stroke-width="0.5"/>
<circle cx="340.70" cy="230.60" r="2.30" fill="#14a814" stroke="#006000" stroke-width="0.5"/>
<polyline points="207.90,226.50 221.18,228.90 234.46,223.70 247.74,215.60 261.02,214.30 274.30,216.40 287.58,215.30 300.86,218.00 314.14,226.70 327.42,228.60 340.70,231.10" fill="none" stroke="#2020b8" stroke-width="1.1"/>
<rect x="205.65" y="224.25" width="4.50" height="4.50" fill="#0000f0" stroke="#0000b0" stroke-width="0.5"/>
<rect x="218.93" y="226.65" width="4.50" height="4.50" fill="#0000f0" stroke="#0000b0" stroke-width="0.5"/>
<rect x="232.21" y="221.45" width="4.50" height="4.50" fill="#0000f0" stroke="#0000b0" stroke-width="0.5"/>
<rect x="245.49" y="213.35" width="4.50" height="4.50" fill="#0000f0" stroke="#0000b0" stroke-width="0.5"/>
<rect x="258.77" y="212.05" width="4.50" height="4.50" fill="#0000f0" stroke="#0000b0" stroke-width="0.5"/>
<rect x="272.05" y="214.15" width="4.50" height="4.50" fill="#0000f0" stroke="#0000b0" stroke-width="0.5"/>
<rect x="285.33" y="213.05" width="4.50" height="4.50" fill="#0000f0" stroke="#0000b0" stroke-width="0.5"/>
<rect x="298.61" y="215.75" width="4.50" height="4.50" fill="#0000f0" stroke="#0000b0" stroke-width="0.5"/>
<rect x="311.89" y="224.45" width="4.50" height="4.50" fill="#0000f0" stroke="#0000b0" stroke-width="0.5"/>
<rect x="325.17" y="226.35" width="4.50" height="4.50" fill="#0000f0" stroke="#0000b0" stroke-width="0.5"/>
<rect x="338.45" y="228.85" width="4.50" height="4.50" fill="#0000f0" stroke="#0000b0" stroke-width="0.5"/>
<polyline points="207.90,204.50 221.18,236.00 234.46,247.50 247.74,242.10 261.02,229.20 274.30,221.60 287.58,219.50 300.86,214.00 314.14,216.80 327.42,219.20 340.70,212.90" fill="none" stroke="#d05a30" stroke-width="1.1"/>
<path d="M207.90 201.30L210.20 206.10L205.60 206.10Z" fill="#f05018" stroke="#c83c10" stroke-width="0.4"/>
<path d="M221.18 232.80L223.48 237.60L218.88 237.60Z" fill="#f05018" stroke="#c83c10" stroke-width="0.4"/>
<path d="M234.46 244.30L236.76 249.10L232.16 249.10Z" fill="#f05018" stroke="#c83c10" stroke-width="0.4"/>
<path d="M247.74 238.90L250.04 243.70L245.44 243.70Z" fill="#f05018" stroke="#c83c10" stroke-width="0.4"/>
<path d="M261.02 226.00L263.32 230.80L258.72 230.80Z" fill="#f05018" stroke="#c83c10" stroke-width="0.4"/>
<path d="M274.30 218.40L276.60 223.20L272.00 223.20Z" fill="#f05018" stroke="#c83c10" stroke-width="0.4"/>
<path d="M287.58 216.30L289.88 221.10L285.28 221.10Z" fill="#f05018" stroke="#c83c10" stroke-width="0.4"/>
<path d="M300.86 210.80L303.16 215.60L298.56 215.60Z" fill="#f05018" stroke="#c83c10" stroke-width="0.4"/>
<path d="M314.14 213.60L316.44 218.40L311.84 218.40Z" fill="#f05018" stroke="#c83c10" stroke-width="0.4"/>
<path d="M327.42 216.00L329.72 220.80L325.12 220.80Z" fill="#f05018" stroke="#c83c10" stroke-width="0.4"/>
<path d="M340.70 209.70L343.00 214.50L338.40 214.50Z" fill="#f05018" stroke="#c83c10" stroke-width="0.4"/>
<polyline points="207.90,246.00 221.18,239.30 234.46,233.50 247.74,229.60 261.02,228.70 274.30,227.50 287.58,227.50 300.86,234.20 314.14,236.50 327.42,237.00 340.70,237.40" fill="none" stroke="#4a1e38" stroke-width="1.1"/>
<path d="M207.90 242.80L210.20 247.60L205.60 247.60Z" fill="#2a0820" stroke="#2a0820" stroke-width="0.4"/>
<path d="M221.18 236.10L223.48 240.90L218.88 240.90Z" fill="#2a0820" stroke="#2a0820" stroke-width="0.4"/>
<path d="M234.46 230.30L236.76 235.10L232.16 235.10Z" fill="#2a0820" stroke="#2a0820" stroke-width="0.4"/>
<path d="M247.74 226.40L250.04 231.20L245.44 231.20Z" fill="#2a0820" stroke="#2a0820" stroke-width="0.4"/>
<path d="M261.02 225.50L263.32 230.30L258.72 230.30Z" fill="#2a0820" stroke="#2a0820" stroke-width="0.4"/>
<path d="M274.30 224.30L276.60 229.10L272.00 229.10Z" fill="#2a0820" stroke="#2a0820" stroke-width="0.4"/>
<path d="M287.58 224.30L289.88 229.10L285.28 229.10Z" fill="#2a0820" stroke="#2a0820" stroke-width="0.4"/>
<path d="M300.86 231.00L303.16 235.80L298.56 235.80Z" fill="#2a0820" stroke="#2a0820" stroke-width="0.4"/>
<path d="M314.14 233.30L316.44 238.10L311.84 238.10Z" fill="#2a0820" stroke="#2a0820" stroke-width="0.4"/>
<path d="M327.42 233.80L329.72 238.60L325.12 238.60Z" fill="#2a0820" stroke="#2a0820" stroke-width="0.4"/>
<path d="M340.70 234.20L343.00 239.00L338.40 239.00Z" fill="#2a0820" stroke="#2a0820" stroke-width="0.4"/>
<polyline points="207.90,229.90 221.18,210.80 234.46,222.00 247.74,211.40 261.02,218.80" fill="none" stroke="#c830dc" stroke-width="1.1"/>
<rect x="205.65" y="227.65" width="4.50" height="4.50" fill="#f800f8" stroke="#d800d8" stroke-width="0.5"/>
<rect x="218.93" y="208.55" width="4.50" height="4.50" fill="#f800f8" stroke="#d800d8" stroke-width="0.5"/>
<rect x="232.21" y="219.75" width="4.50" height="4.50" fill="#f800f8" stroke="#d800d8" stroke-width="0.5"/>
<rect x="245.49" y="209.15" width="4.50" height="4.50" fill="#f800f8" stroke="#d800d8" stroke-width="0.5"/>
<rect x="258.77" y="216.55" width="4.50" height="4.50" fill="#f800f8" stroke="#d800d8" stroke-width="0.5"/>
<polyline points="207.90,227.80 221.18,235.30" fill="none" stroke="#b8182e" stroke-width="1.1"/>
<path d="M207.90 225.10L210.60 227.80L207.90 230.50L205.20 227.80Z" fill="#cc0010" stroke="#a00010" stroke-width="0.6"/>
<path d="M221.18 232.60L223.88 235.30L221.18 238.00L218.48 235.30Z" fill="#cc0010" stroke="#a00010" stroke-width="0.6"/>
<path d="M372.9 173.1H518.4V318.8H372.9Z" fill="none" stroke="#2e2e2e" stroke-width="1.4"/>
<path d="M369.90 173.10H372.9" stroke="#2e2e2e" stroke-width="1.4"/>
<text x="368.10" y="178.50" text-anchor="end" class="t">26</text>
<path d="M369.90 197.38H372.9" stroke="#2e2e2e" stroke-width="1.4"/>
<text x="368.10" y="202.78" text-anchor="end" class="t">24</text>
<path d="M369.90 221.67H372.9" stroke="#2e2e2e" stroke-width="1.4"/>
<text x="368.10" y="227.07" text-anchor="end" class="t">22</text>
<path d="M369.90 245.95H372.9" stroke="#2e2e2e" stroke-width="1.4"/>
<text x="368.10" y="251.35" text-anchor="end" class="t">20</text>
<path d="M369.90 270.23H372.9" stroke="#2e2e2e" stroke-width="1.4"/>
<text x="368.10" y="275.63" text-anchor="end" class="t">18</text>
<path d="M369.90 294.52H372.9" stroke="#2e2e2e" stroke-width="1.4"/>
<text x="368.10" y="299.92" text-anchor="end" class="t">16</text>
<path d="M369.90 318.80H372.9" stroke="#2e2e2e" stroke-width="1.4"/>
<text x="368.10" y="324.20" text-anchor="end" class="t">14</text>
<path d="M379.40 318.8V321.80" stroke="#2e2e2e" stroke-width="1.4"/>
<text x="379.40" y="332.80" text-anchor="middle" class="t">0</text>
<path d="M392.68 318.8V321.80" stroke="#2e2e2e" stroke-width="1.4"/>
<text x="392.68" y="332.80" text-anchor="middle" class="t">3</text>
<path d="M405.96 318.8V321.80" stroke="#2e2e2e" stroke-width="1.4"/>
<text x="405.96" y="332.80" text-anchor="middle" class="t">4</text>
<path d="M419.24 318.8V321.80" stroke="#2e2e2e" stroke-width="1.4"/>
<text x="419.24" y="332.80" text-anchor="middle" class="t">5</text>
<path d="M432.52 318.8V321.80" stroke="#2e2e2e" stroke-width="1.4"/>
<text x="432.52" y="332.80" text-anchor="middle" class="t">6</text>
<path d="M445.80 318.8V321.80" stroke="#2e2e2e" stroke-width="1.4"/>
<text x="445.80" y="332.80" text-anchor="middle" class="t">7</text>
<path d="M459.08 318.8V321.80" stroke="#2e2e2e" stroke-width="1.4"/>
<text x="459.08" y="332.80" text-anchor="middle" class="t">8</text>
<path d="M472.36 318.8V321.80" stroke="#2e2e2e" stroke-width="1.4"/>
<text x="472.36" y="332.80" text-anchor="middle" class="t">9</text>
<path d="M485.64 318.8V321.80" stroke="#2e2e2e" stroke-width="1.4"/>
<text x="485.64" y="332.80" text-anchor="middle" class="t">11</text>
<path d="M498.92 318.8V321.80" stroke="#2e2e2e" stroke-width="1.4"/>
<text x="498.92" y="332.80" text-anchor="middle" class="t">13</text>
<path d="M512.20 318.8V321.80" stroke="#2e2e2e" stroke-width="1.4"/>
<text x="512.20" y="332.80" text-anchor="middle" class="t">14</text>
<text x="436.40" y="185.60" text-anchor="middle" class="t">PBS</text>
<polyline points="379.40,214.50 392.68,230.80 405.96,240.20 419.24,248.40 432.52,255.50 445.80,268.90" fill="none" stroke="#2a922a" stroke-width="1.1"/>
<circle cx="379.40" cy="214.50" r="2.30" fill="#14a814" stroke="#006000" stroke-width="0.5"/>
<circle cx="392.68" cy="230.80" r="2.30" fill="#14a814" stroke="#006000" stroke-width="0.5"/>
<circle cx="405.96" cy="240.20" r="2.30" fill="#14a814" stroke="#006000" stroke-width="0.5"/>
<circle cx="419.24" cy="248.40" r="2.30" fill="#14a814" stroke="#006000" stroke-width="0.5"/>
<circle cx="432.52" cy="255.50" r="2.30" fill="#14a814" stroke="#006000" stroke-width="0.5"/>
<circle cx="445.80" cy="268.90" r="2.30" fill="#14a814" stroke="#006000" stroke-width="0.5"/>
<polyline points="379.40,216.40 392.68,233.00 405.96,245.80 419.24,252.10 432.52,258.40 445.80,270.80" fill="none" stroke="#2020b8" stroke-width="1.1"/>
<rect x="377.15" y="214.15" width="4.50" height="4.50" fill="#0000f0" stroke="#0000b0" stroke-width="0.5"/>
<rect x="390.43" y="230.75" width="4.50" height="4.50" fill="#0000f0" stroke="#0000b0" stroke-width="0.5"/>
<rect x="403.71" y="243.55" width="4.50" height="4.50" fill="#0000f0" stroke="#0000b0" stroke-width="0.5"/>
<rect x="416.99" y="249.85" width="4.50" height="4.50" fill="#0000f0" stroke="#0000b0" stroke-width="0.5"/>
<rect x="430.27" y="256.15" width="4.50" height="4.50" fill="#0000f0" stroke="#0000b0" stroke-width="0.5"/>
<rect x="443.55" y="268.55" width="4.50" height="4.50" fill="#0000f0" stroke="#0000b0" stroke-width="0.5"/>
<polyline points="379.40,213.80 392.68,229.50 405.96,239.30 419.24,247.80 432.52,252.20 445.80,264.50" fill="none" stroke="#d05a30" stroke-width="1.1"/>
<path d="M379.40 210.60L381.70 215.40L377.10 215.40Z" fill="#f05018" stroke="#c83c10" stroke-width="0.4"/>
<path d="M392.68 226.30L394.98 231.10L390.38 231.10Z" fill="#f05018" stroke="#c83c10" stroke-width="0.4"/>
<path d="M405.96 236.10L408.26 240.90L403.66 240.90Z" fill="#f05018" stroke="#c83c10" stroke-width="0.4"/>
<path d="M419.24 244.60L421.54 249.40L416.94 249.40Z" fill="#f05018" stroke="#c83c10" stroke-width="0.4"/>
<path d="M432.52 249.00L434.82 253.80L430.22 253.80Z" fill="#f05018" stroke="#c83c10" stroke-width="0.4"/>
<path d="M445.80 261.30L448.10 266.10L443.50 266.10Z" fill="#f05018" stroke="#c83c10" stroke-width="0.4"/>
<polyline points="379.40,207.60 392.68,224.60 405.96,235.60 419.24,242.50 432.52,250.80 445.80,261.70" fill="none" stroke="#4a1e38" stroke-width="1.1"/>
<path d="M379.40 204.40L381.70 209.20L377.10 209.20Z" fill="#2a0820" stroke="#2a0820" stroke-width="0.4"/>
<path d="M392.68 221.40L394.98 226.20L390.38 226.20Z" fill="#2a0820" stroke="#2a0820" stroke-width="0.4"/>
<path d="M405.96 232.40L408.26 237.20L403.66 237.20Z" fill="#2a0820" stroke="#2a0820" stroke-width="0.4"/>
<path d="M419.24 239.30L421.54 244.10L416.94 244.10Z" fill="#2a0820" stroke="#2a0820" stroke-width="0.4"/>
<path d="M432.52 247.60L434.82 252.40L430.22 252.40Z" fill="#2a0820" stroke="#2a0820" stroke-width="0.4"/>
<path d="M445.80 258.50L448.10 263.30L443.50 263.30Z" fill="#2a0820" stroke="#2a0820" stroke-width="0.4"/>
<polyline points="379.40,203.40 392.68,214.60 405.96,230.40 419.24,241.80 432.52,251.00" fill="none" stroke="#c830dc" stroke-width="1.1"/>
<rect x="377.15" y="201.15" width="4.50" height="4.50" fill="#f800f8" stroke="#d800d8" stroke-width="0.5"/>
<rect x="390.43" y="212.35" width="4.50" height="4.50" fill="#f800f8" stroke="#d800d8" stroke-width="0.5"/>
<rect x="403.71" y="228.15" width="4.50" height="4.50" fill="#f800f8" stroke="#d800d8" stroke-width="0.5"/>
<rect x="416.99" y="239.55" width="4.50" height="4.50" fill="#f800f8" stroke="#d800d8" stroke-width="0.5"/>
<rect x="430.27" y="248.75" width="4.50" height="4.50" fill="#f800f8" stroke="#d800d8" stroke-width="0.5"/>
<polyline points="379.40,193.20 392.68,214.30" fill="none" stroke="#b8182e" stroke-width="1.1"/>
<path d="M379.40 190.50L382.10 193.20L379.40 195.90L376.70 193.20Z" fill="#cc0010" stroke="#a00010" stroke-width="0.6"/>
<path d="M392.68 211.60L395.38 214.30L392.68 217.00L389.98 214.30Z" fill="#cc0010" stroke="#a00010" stroke-width="0.6"/>
<rect x="472.8" y="177.2" width="42.6" height="69.2" fill="#fff" stroke="#555" stroke-width="1.2"/>
<path d="M478.8 184.9H502.6" stroke="#b8182e" stroke-width="1.3"/>
<path d="M491.50 182.20L494.20 184.90L491.50 187.60L488.80 184.90Z" fill="#cc0010" stroke="#a00010" stroke-width="0.6"/>
<text x="505.3" y="191.80" class="t" style="font-size:9.4px">1</text>
<path d="M478.8 194.8H502.6" stroke="#c830dc" stroke-width="1.3"/>
<rect x="488.69" y="191.99" width="5.62" height="5.62" fill="#f800f8" stroke="#d800d8" stroke-width="0.5"/>
<text x="505.3" y="201.70" class="t" style="font-size:9.4px">2</text>
<path d="M478.8 204.9H502.6" stroke="#d05a30" stroke-width="1.3"/>
<path d="M491.50 201.90L494.10 207.70L488.90 207.70Z" fill="#f05018" stroke="#c83c10" stroke-width="0.4"/>
<text x="505.3" y="211.80" class="t" style="font-size:9.4px">3</text>
<path d="M478.8 214.8H502.6" stroke="#2a922a" stroke-width="1.3"/>
<circle cx="491.50" cy="214.80" r="2.90" fill="#14a814" stroke="#006000" stroke-width="0.5"/>
<text x="505.3" y="221.70" class="t" style="font-size:9.4px">4</text>
<path d="M478.8 225.2H502.6" stroke="#2020b8" stroke-width="1.3"/>
<rect x="488.69" y="222.39" width="5.62" height="5.62" fill="#0000f0" stroke="#0000b0" stroke-width="0.5"/>
<text x="505.3" y="232.10" class="t" style="font-size:9.4px">5</text>
<path d="M478.8 236.0H502.6" stroke="#4a1e38" stroke-width="1.3"/>
<path d="M491.50 233.00L494.10 238.80L488.90 238.80Z" fill="#2a0820" stroke="#2a0820" stroke-width="0.4"/>
<text x="505.3" y="242.90" class="t" style="font-size:9.4px">6</text>
<text x="447.4" y="282.8" text-anchor="middle" class="t" style="font-size:10.25px;fill:#c40c2a;stroke:#c40c2a;stroke-width:0.4px">Euthanized for virus</text>
<text x="448.1" y="293.6" text-anchor="middle" class="t" style="font-size:10.25px;fill:#c40c2a;stroke:#c40c2a;stroke-width:0.4px">isolation and histology</text>
<path d="M409 300.7H432" stroke="#b8182e" stroke-width="1.3"/>
<path d="M421.10 298.00L423.80 300.70L421.10 303.40L418.40 300.70Z" fill="#cc0010" stroke="#a00010" stroke-width="0.6"/>
<path d="M409 310.2H432" stroke="#d050e0" stroke-width="1.3"/>
<rect x="418.85" y="307.95" width="4.50" height="4.50" fill="#f800f8" stroke="#d800d8" stroke-width="0.5"/>
<text x="434.6" y="305.3" class="t" style="font-size:7.6px;fill:#c40c2a;stroke-width:0.38px;stroke:#c40c2a">1: after 3 days</text>
<text x="434.6" y="313.6" class="t" style="font-size:7.6px;fill:#c40c2a;stroke-width:0.38px;stroke:#c40c2a" xml:space="preserve">2  after 6 days</text>
<text transform="translate(7.8 74.1) rotate(-90) scale(1.01 0.88)" text-anchor="middle" class="t">body weight (g)</text>
<text transform="translate(7.8 243.1) rotate(-90) scale(1.01 0.88)" text-anchor="middle" class="t">body weight (g)</text>
<text x="104.2" y="344.8" text-anchor="middle" class="t">days after challenge</text>
<text x="274.2" y="344.8" text-anchor="middle" class="t">days after challenge</text>
<text x="446.9" y="344.8" text-anchor="middle" class="t">days after challenge</text>
</svg>
</body></html>
